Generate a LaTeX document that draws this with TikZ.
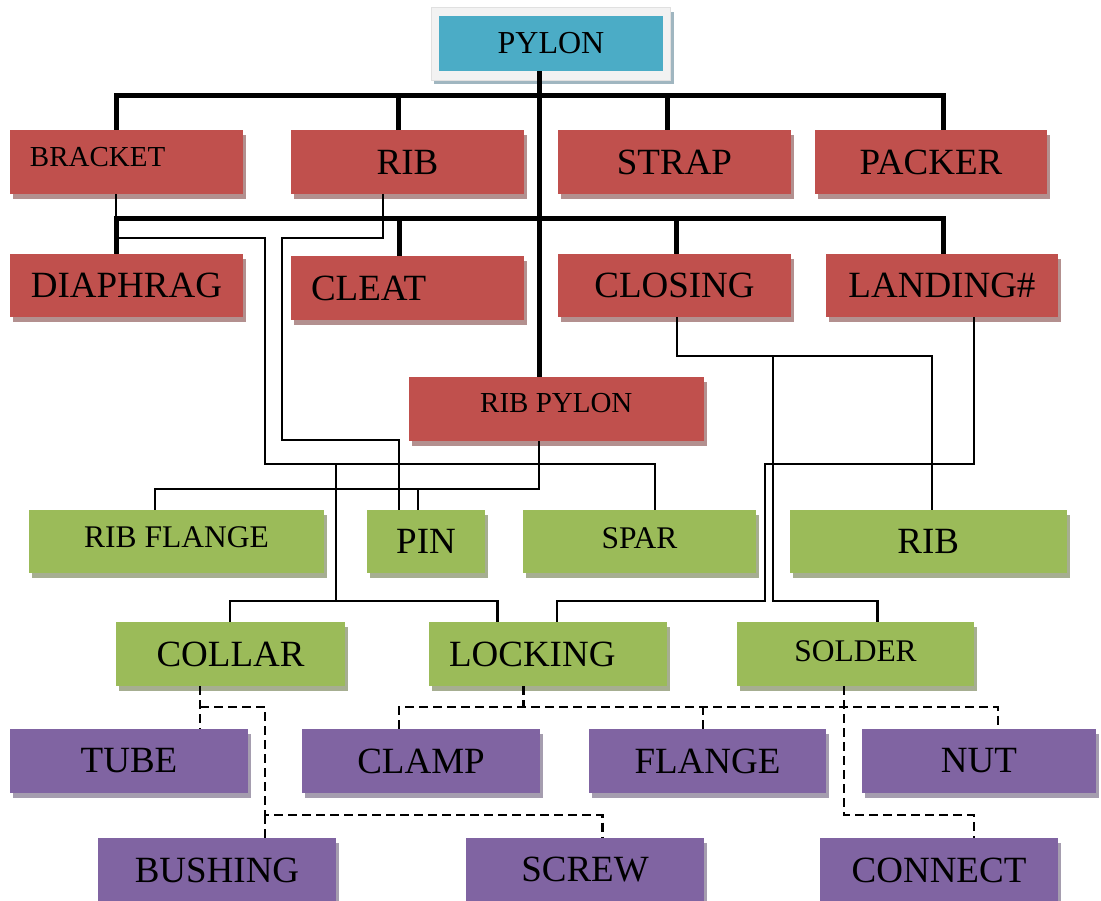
\documentclass[tikz,border=0pt]{standalone}
\usepackage{fontspec}
\setmainfont{Liberation Serif}
\usetikzlibrary{shadows,backgrounds,calc}
\definecolor{pyblue}{HTML}{4BACC6}
\definecolor{pyframe}{HTML}{F2F2F2}
\definecolor{pyshade}{HTML}{A0B6C0}
\definecolor{redbox}{HTML}{C0504D}
\definecolor{redsh}{HTML}{B3908F}
\definecolor{greenbox}{HTML}{9BBB59}
\definecolor{greensh}{HTML}{A6AE91}
\definecolor{purplebox}{HTML}{8064A2}
\definecolor{purplesh}{HTML}{A59DAF}
\newcommand\lift[2]{\raisebox{#1}[\height][\depth]{#2}}
\begin{document}
\begin{tikzpicture}[x=1pt,y=-1pt,
  boxbase/.style={rectangle,inner sep=0pt,text=black,font=\fontsize{37pt}{40pt}\selectfont},
  redb/.style={boxbase,fill=redbox,drop shadow={shadow xshift=3pt,shadow yshift=-5pt,fill=redsh,opacity=1}},
  greenb/.style={boxbase,fill=greenbox,drop shadow={shadow xshift=3pt,shadow yshift=-5pt,fill=greensh,opacity=1}},
  purpleb/.style={boxbase,fill=purplebox,drop shadow={shadow xshift=3pt,shadow yshift=-5pt,fill=purplesh,opacity=1}},
  blueb/.style={boxbase,fill=pyblue},
  smallfont/.style={font=\fontsize{29pt}{32pt}\selectfont},
  midfont/.style={font=\fontsize{31.5pt}{34pt}\selectfont},
  bigline/.style={line width=5pt,line join=miter},
  thinline/.style={line width=2.2pt,line join=miter},
  dashline/.style={line width=2.2pt,dash pattern=on 9pt off 5pt}]
\useasboundingbox (0,0) rectangle (1101,901);

% top node
\node[blueb,minimum width=224pt,minimum height=55pt,font=\fontsize{32pt}{35pt}\selectfont] (pylon) at (551,43.5) {PYLON};
\begin{scope}[on background layer]
  \fill[pyshade] ($(pylon.north west)+(-5,-4)$) rectangle ($(pylon.south east)+(11,13)$);
  \fill[pyframe,draw=black!12,line width=0.6pt] ($(pylon.north west)+(-8,-8)$) rectangle ($(pylon.south east)+(7,9)$);
\end{scope}

% red row 1
\node[redb,minimum width=233pt,minimum height=64pt,smallfont] (bracket) at (126.5,162) {\makebox[193pt][l]{\lift{5pt}{BRACKET}}};
\node[redb,minimum width=233pt,minimum height=64pt] (ribA) at (407.5,162) {RIB};
\node[redb,minimum width=233pt,minimum height=64pt] (strap) at (674.5,162) {STRAP};
\node[redb,minimum width=232pt,minimum height=64pt] (packer) at (931,162) {PACKER};
% red row 2
\node[redb,minimum width=233pt,minimum height=63pt] (diaphrag) at (126.5,285.5) {DIAPHRAG};
\node[redb,minimum width=233pt,minimum height=64pt] (cleat) at (407.5,288) {\makebox[193pt][l]{CLEAT}};
\node[redb,minimum width=233pt,minimum height=63pt] (closing) at (674.5,285.5) {CLOSING};
\node[redb,minimum width=232pt,minimum height=63pt] (landing) at (942,285.5) {LANDING\#};
% rib pylon
\node[redb,minimum width=295pt,minimum height=64pt,smallfont] (ribpylon) at (556.3,409) {\lift{6pt}{RIB PYLON}};
% green row 1
\node[greenb,minimum width=295pt,minimum height=63pt,midfont] (ribflange) at (176.5,541.5) {\lift{4pt}{RIB FLANGE}};
\node[greenb,minimum width=118pt,minimum height=63pt] (pin) at (426,541.5) {PIN};
\node[greenb,minimum width=233pt,minimum height=63pt,midfont] (spar) at (639.5,541.5) {\lift{3pt}{SPAR}};
\node[greenb,minimum width=277pt,minimum height=63pt] (ribB) at (928.3,541.5) {RIB};
% green row 2
\node[greenb,minimum width=229pt,minimum height=64pt] (collar) at (230.5,654) {COLLAR};
\node[greenb,minimum width=238pt,minimum height=64pt] (locking) at (548,654) {\makebox[198pt][l]{LOCKING}};
\node[greenb,minimum width=237pt,minimum height=64pt,midfont] (solder) at (855.5,654) {\lift{3pt}{SOLDER}};
% purple row 1
\node[purpleb,minimum width=238pt,minimum height=64pt] (tube) at (129,761) {TUBE};
\node[purpleb,minimum width=238pt,minimum height=64pt] (clamp) at (421,761) {CLAMP};
\node[purpleb,minimum width=237pt,minimum height=64pt] (flangeP) at (707.5,761) {FLANGE};
\node[purpleb,minimum width=234pt,minimum height=64pt] (nut) at (979,761) {NUT};
% purple row 2
\node[purpleb,minimum width=238pt,minimum height=64pt] (bushing) at (217,870) {BUSHING};
\node[purpleb,minimum width=238pt,minimum height=64pt] (screw) at (585,870) {SCREW};
\node[purpleb,minimum width=238pt,minimum height=64pt] (connect) at (939,870) {CONNECT};

% thick connectors
\draw[bigline] ([xshift=-10.5pt]bracket.north) -- ++(0,-34) -| ([xshift=12.5pt]packer.north);
\draw[bigline] ([xshift=-9.5pt]ribA.north) -- ++(0,-34);
\draw[bigline] ([xshift=-7.5pt]strap.north) -- ++(0,-34);
\draw[bigline] ([xshift=-10.5pt]diaphrag.north) -- ++(0,-35) -| ([xshift=1.6pt]landing.north);
\draw[bigline] ([xshift=-8.5pt]cleat.north) -- ++(0,-37);
\draw[bigline] ([xshift=1.5pt]closing.north) -- ++(0,-35);
\draw[bigline] ([xshift=-12pt]pylon.south) -- ([xshift=-12pt]pylon.south |- ribpylon.north);
\draw[thinline] ([xshift=-10.5pt]bracket.south) -- ++(0,25);

% thin connectors
\coordinate (j1) at (265,464);
\draw[thinline] ([xshift=-10.5pt,yshift=16pt]diaphrag.north) -| (j1) -| ([xshift=15.5pt]spar.north);
\coordinate (k0) at (336,464);
\coordinate (k1) at (336,601);
\draw[thinline] (k0) -- (k1);
\draw[thinline] ([xshift=-0.5pt]collar.north) |- (k1) -| ([xshift=-50.5pt]locking.north);
\coordinate (r1) at (282,440);
\draw[thinline] ([xshift=-24.5pt]ribA.south) -- ++(0,44) -| (r1) -| ([xshift=-27pt]pin.north);
\draw[thinline] ([xshift=-17pt]ribpylon.south) -- ++(0,48) coordinate (rpb) -| ([xshift=-21.5pt]ribflange.north);
\draw[thinline] ([xshift=-8pt]pin.north) -- ([xshift=-8pt]pin.north |- rpb);
\draw[thinline] ([xshift=2.5pt]closing.south) -- ++(0,39) -| ([xshift=4pt]ribB.north);
\coordinate (s1) at (773,356);
\draw[thinline] (s1) -- ++(0,245) -| ([xshift=22pt]solder.north);
\coordinate (l1) at (765,601);
\draw[thinline] ([xshift=32pt]landing.south) -- ++(0,147) -| (l1) -| ([xshift=9pt]locking.north);

% dashed connectors
\draw[dashline] ([xshift=-30.5pt]collar.south) -- ([xshift=71pt]tube.north);
\coordinate (d1) at (200,707);
\coordinate (d2) at (265,815);
\draw[dashline] (d1) -| (d2) -| ([xshift=17.5pt]screw.north);
\draw[dashline] (d2) -- ([xshift=48pt]bushing.north);
\draw[dashline] ([xshift=-24.5pt]locking.south) -- ++(0,21);
\draw[dashline] ([xshift=-22pt]clamp.north) -- ++(0,-22) -| ([xshift=19pt]nut.north);
\draw[dashline] ([xshift=-4.5pt]flangeP.north) -- ++(0,-22);
\draw[dashline] ([xshift=-11.5pt]solder.south) -- ++(0,129) -| ([xshift=35pt]connect.north);
\end{tikzpicture}
\end{document}
